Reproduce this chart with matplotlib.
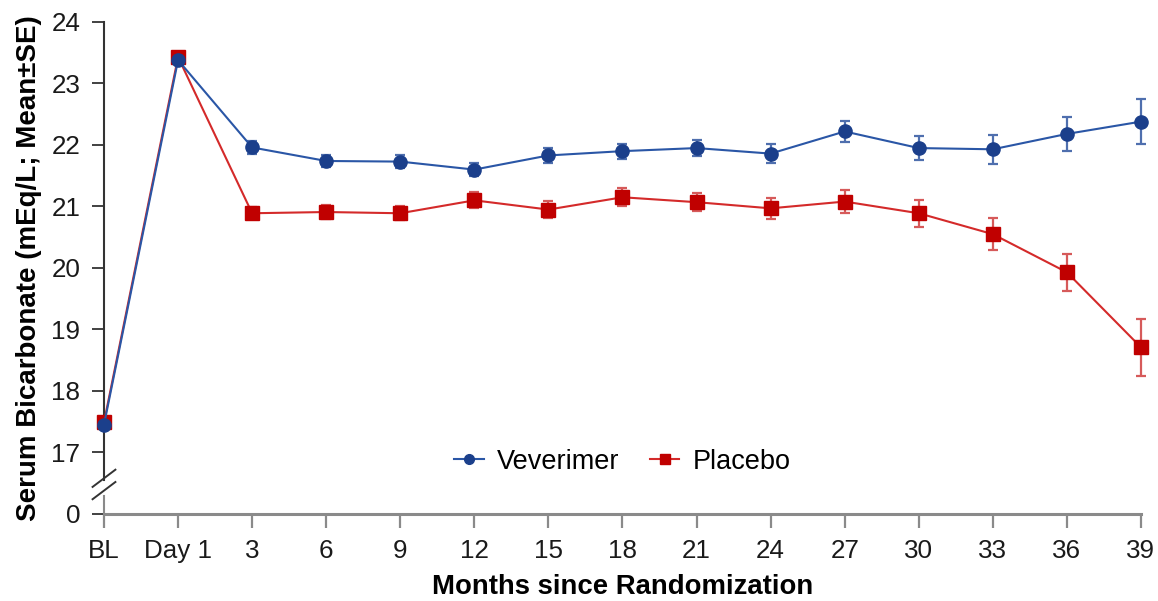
import matplotlib
matplotlib.use("Agg")
import matplotlib.pyplot as plt
from matplotlib.lines import Line2D

plt.rcParams['font.family'] = ['Liberation Sans', 'DejaVu Sans']

# Visit labels along the x axis
visits = ["BL", "Day 1", "3", "6", "9", "12", "15", "18", "21", "24",
          "27", "30", "33", "36", "39"]

# Serum bicarbonate, mean and standard error (mEq/L)
veverimer_mean = [17.45, 23.38, 21.96, 21.74, 21.73, 21.60, 21.83, 21.90,
                  21.95, 21.86, 22.22, 21.95, 21.93, 22.18, 22.38]
veverimer_se = [0.04, 0.04, 0.10, 0.09, 0.10, 0.10, 0.12, 0.12,
                0.13, 0.15, 0.17, 0.20, 0.24, 0.28, 0.37]

placebo_mean = [17.49, 23.43, 20.89, 20.91, 20.89, 21.10, 20.95, 21.15,
                21.07, 20.97, 21.08, 20.89, 20.55, 19.93, 18.71]
placebo_se = [0.05, 0.05, 0.10, 0.11, 0.11, 0.13, 0.14, 0.15,
              0.15, 0.17, 0.19, 0.22, 0.26, 0.30, 0.46]

y_ticks = [16, 17, 18, 19, 20, 21, 22, 23, 24]
y_tick_labels = ["0", "17", "18", "19", "20", "21", "22", "23", "24"]

blue = "#1b3f8b"
blue_line = "#2a56a6"
red = "#c00000"
red_line = "#d42a2a"

fig = plt.figure(figsize=(11.58, 6.01), dpi=100)
ax = fig.add_axes([0.0898, 0.1448, 0.8955, 0.8186])

x = list(range(len(visits)))

ax.errorbar(x, placebo_mean, yerr=placebo_se, color=red_line, lw=1.5,
            marker="s", ms=10, mfc=red, mec=red, ecolor="#d65a5a",
            elinewidth=1.6, capsize=3.8, capthick=1.6, clip_on=False, zorder=3)
ax.errorbar(x, veverimer_mean, yerr=veverimer_se, color=blue_line, lw=1.5,
            marker="o", ms=9.5, mfc=blue, mec=blue, ecolor="#4f6fae",
            elinewidth=1.6, capsize=3.8, capthick=1.6, clip_on=False, zorder=4)

ax.set_xlim(0, len(visits) - 1)
ax.set_ylim(16, 24)
ax.set_xticks(x)
ax.set_xticklabels(visits)
ax.set_yticks(y_ticks)
ax.set_yticklabels(y_tick_labels)

for side in ("top", "right", "left"):
    ax.spines[side].set_visible(False)
ax.spines["bottom"].set_color("#8a8a8a")
ax.spines["bottom"].set_linewidth(2.2)

ax.tick_params(axis="x", direction="out", length=10, width=1.6,
               color="#8a8a8a", labelsize=18.7, pad=8, labelcolor="#1a1a1a")
ax.tick_params(axis="y", direction="out", length=9, width=1.3,
               color="#333333", labelsize=18.7, pad=8, labelcolor="#1a1a1a")

# Broken left axis: upper segment, lower segment and double slash
ax.add_line(Line2D([0, 0], [16.55, 24], color="#333333", lw=1.5,
                   transform=ax.get_yaxis_transform(), clip_on=False))
ax.add_line(Line2D([0, 0], [16.0, 16.30], color="#8a8a8a", lw=1.5,
                   transform=ax.get_yaxis_transform(), clip_on=False))
for y0 in (16.38, 16.58):
    ax.add_line(Line2D([-0.011, 0.011], [y0 - 0.14, y0 + 0.14],
                       color="#333333", lw=1.4,
                       transform=ax.get_yaxis_transform(), clip_on=False))

ax.set_xlabel("Months since Randomization", fontsize=19.8,
              fontweight="bold", labelpad=8)
ax.set_ylabel("Serum Bicarbonate (mEq/L; Mean\u00b1SE)", fontsize=20,
              fontweight="bold", labelpad=7)

handles = [
    Line2D([], [], color=blue_line, lw=1.5, marker="o", ms=7,
           mfc=blue, mec=blue),
    Line2D([], [], color=red_line, lw=1.5, marker="s", ms=7,
           mfc=red, mec=red),
]
ax.legend(handles, ["Veverimer", "Placebo"], loc="center",
          bbox_to_anchor=(0.5, 0.106), ncol=2, frameon=False,
          fontsize=19.5, handlelength=1.1, handletextpad=0.5,
          columnspacing=1.1)

fig.savefig("out.png", dpi=100)
